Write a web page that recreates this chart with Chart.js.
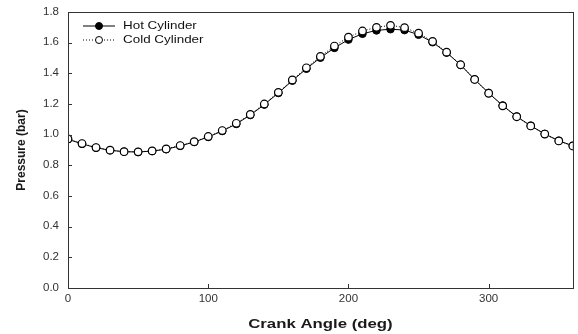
<!DOCTYPE html>
<html>
<head>
<meta charset="utf-8">
<script src="https://cdn.jsdelivr.net/npm/chart.js@4"></script>
<style>
  html, body { margin: 0; padding: 0; background: #fff; }
  #wrap { width: 578px; height: 334px; position: relative; }
</style>
</head>
<body>
<div id="wrap"><canvas id="chart"></canvas></div>
<script>
// Crank angle (deg), one point every 10 degrees
const angles = [0, 10, 20, 30, 40, 50, 60, 70, 80, 90, 100, 110, 120, 130, 140, 150, 160, 170, 180,
    190, 200, 210, 220, 230, 240, 250, 260, 270, 280, 290, 300, 310, 320, 330, 340, 350, 360];

const hotPressure = [0.970, 0.940, 0.915, 0.898, 0.889, 0.887, 0.893, 0.905, 0.927, 0.952, 0.985,
    1.024, 1.070, 1.128, 1.196, 1.272, 1.352, 1.430, 1.502, 1.566, 1.620, 1.658, 1.680, 1.688,
    1.682, 1.652, 1.603, 1.535, 1.455, 1.360, 1.272, 1.190, 1.118, 1.058, 1.005, 0.960, 0.928];

const coldPressure = [0.972, 0.942, 0.916, 0.899, 0.889, 0.888, 0.894, 0.907, 0.929, 0.954, 0.988,
    1.027, 1.074, 1.132, 1.200, 1.276, 1.357, 1.436, 1.510, 1.578, 1.636, 1.676, 1.700, 1.713,
    1.698, 1.662, 1.608, 1.538, 1.456, 1.360, 1.270, 1.188, 1.117, 1.057, 1.004, 0.959, 0.926];

const xTicks = [0, 100, 200, 300];
const yTicks = [0.0, 0.2, 0.4, 0.6, 0.8, 1.0, 1.2, 1.4, 1.6, 1.8];

const FONT = '"Liberation Sans", Arial, sans-serif';
const toPoints = (ys) => angles.map((a, i) => ({ x: a, y: ys[i] }));

// the original picture is a bit stretched sideways, so text is drawn wider
function wideText(ctx, text, x, y, stretch, align) {
    ctx.save();
    ctx.translate(x, y);
    ctx.scale(stretch, 1);
    ctx.textAlign = align;
    ctx.fillText(text, 0, 0);
    ctx.restore();
}

// frame, inward ticks, labels and line+marker legend, like the original plot
const framePlugin = {
    id: 'frame',
    afterDraw(chart) {
        const { ctx, chartArea: a, scales: { x, y } } = chart;
        ctx.save();
        ctx.strokeStyle = '#333';
        ctx.lineWidth = 1;
        ctx.strokeRect(Math.round(a.left) + 0.5, Math.round(a.top) + 0.5,
            Math.round(a.right - a.left), Math.round(a.bottom - a.top));
        ctx.beginPath();
        xTicks.forEach(v => {
            const px = Math.round(x.getPixelForValue(v)) + 0.5;
            ctx.moveTo(px, a.bottom);
            ctx.lineTo(px, a.bottom - 4);
        });
        yTicks.forEach(v => {
            const py = Math.round(y.getPixelForValue(v)) + 0.5;
            ctx.moveTo(a.left, py);
            ctx.lineTo(a.left + 4, py);
        });
        ctx.stroke();

        // tick labels
        ctx.fillStyle = '#333';
        ctx.textBaseline = 'middle';
        ctx.font = '10px ' + FONT;
        xTicks.forEach(v => wideText(ctx, String(v), x.getPixelForValue(v), a.bottom + 11, 1.15, 'center'));
        yTicks.forEach(v => wideText(ctx, v.toFixed(1), a.left - 9, y.getPixelForValue(v), 1.15, 'right'));

        // axis titles
        ctx.fillStyle = '#1a1a1a';
        ctx.font = 'bold 13px ' + FONT;
        wideText(ctx, 'Crank Angle (deg)', (a.left + a.right) / 2, 324, 1.29, 'center');
        ctx.save();
        ctx.translate(22, (a.top + a.bottom) / 2);
        ctx.rotate(-Math.PI / 2);
        ctx.font = 'bold 12px ' + FONT;
        ctx.textAlign = 'center';
        ctx.fillText('Pressure (bar)', 0, 0);
        ctx.restore();

        // legend
        ctx.font = '11px ' + FONT;
        chart.data.datasets.forEach((ds, i) => {
            const ly = 26 + i * 14;
            ctx.strokeStyle = '#000';
            ctx.setLineDash(ds.borderDash || []);
            ctx.beginPath();
            ctx.moveTo(83, ly);
            ctx.lineTo(115, ly);
            ctx.stroke();
            ctx.setLineDash([]);
            ctx.beginPath();
            ctx.arc(99, ly, 3.5, 0, Math.PI * 2);
            ctx.fillStyle = ds.pointBackgroundColor;
            ctx.fill();
            ctx.stroke();
            ctx.fillStyle = '#111';
            wideText(ctx, ds.label, 123, ly, 1.22, 'left');
        });
        ctx.restore();
    }
};

new Chart(document.getElementById('chart'), {
    type: 'line',
    data: {
        datasets: [{
            label: 'Hot Cylinder',
            data: toPoints(hotPressure),
            borderColor: '#000',
            borderWidth: 1,
            pointRadius: 3.8,
            pointBackgroundColor: '#000',
            pointBorderColor: '#000',
            pointBorderWidth: 1,
            tension: 0,
            order: 2
        }, {
            label: 'Cold Cylinder',
            data: toPoints(coldPressure),
            borderColor: '#000',
            borderWidth: 1,
            borderDash: [1, 2],
            pointRadius: 3.8,
            pointBackgroundColor: '#fff',
            pointBorderColor: '#000',
            pointBorderWidth: 1.2,
            tension: 0,
            order: 1
        }]
    },
    options: {
        responsive: true,
        maintainAspectRatio: false,
        animation: false,
        layout: { padding: { top: 12, right: 2, left: 0, bottom: 0 } },
        plugins: {
            legend: { display: false },
            tooltip: { enabled: false }
        },
        scales: {
            x: {
                type: 'linear',
                min: 0,
                max: 360,
                afterBuildTicks: (s) => { s.ticks = xTicks.map(v => ({ value: v })); },
                afterFit: (s) => { s.height = 46; },
                grid: { display: false },
                border: { display: false },
                ticks: { display: false }
            },
            y: {
                min: 0,
                max: 1.8,
                afterBuildTicks: (s) => { s.ticks = yTicks.map(v => ({ value: v })); },
                afterFit: (s) => { s.width = 68; },
                grid: { display: false },
                border: { display: false },
                ticks: { display: false }
            }
        }
    },
    plugins: [framePlugin]
});
</script>
</body>
</html>
